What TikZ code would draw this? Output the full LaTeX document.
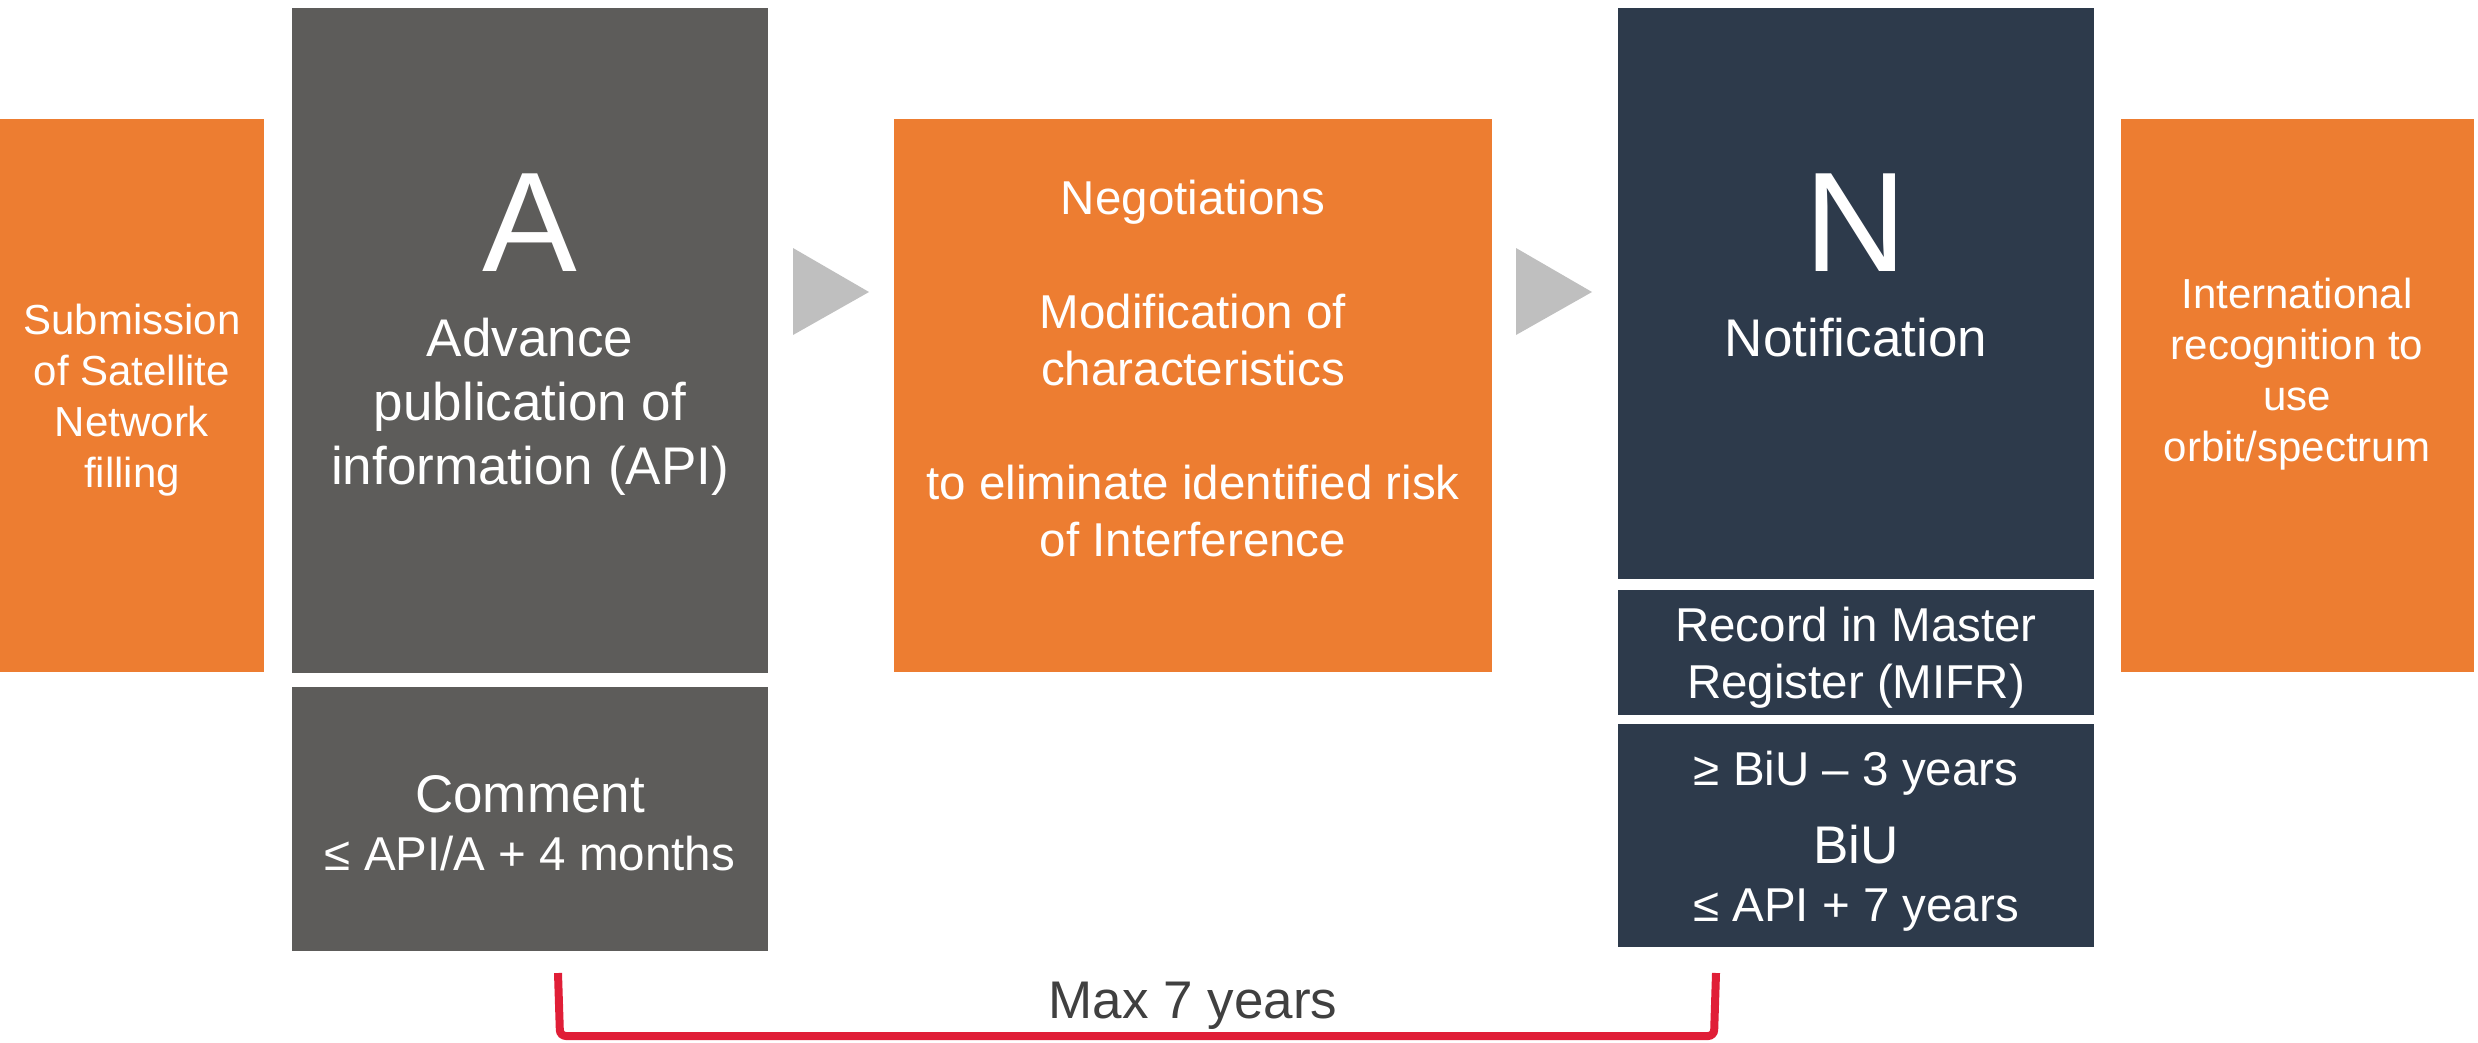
\documentclass[tikz,border=0pt]{standalone}
\usepackage{fontspec}
\setmainfont{Liberation Sans}
\definecolor{stepOrange}{HTML}{ED7D31}
\definecolor{stepGray}{HTML}{5D5C5A}
\definecolor{stepNavy}{HTML}{2D3A4B}
\definecolor{chevronGray}{HTML}{BFBFBF}
\definecolor{spanRed}{HTML}{E01E37}
\definecolor{spanText}{HTML}{404040}
\newcommand{\fsBig}{\fontsize{142}{150}\selectfont}
\newcommand{\fsHead}{\fontsize{53}{64}\selectfont}
\newcommand{\fsBody}{\fontsize{47.5}{57}\selectfont}
\newcommand{\fsSide}{\fontsize{42}{50.8}\selectfont}
\begin{document}
\begin{tikzpicture}[x=1pt,y=-1pt,
  panel/.style={rectangle, draw=none, inner sep=0pt, outer sep=0pt, anchor=north west},
  label/.style={text=white, align=center, anchor=base, inner sep=0pt},
  chevron/.style={fill=chevronGray},
  span/.style={draw=spanRed, line width=8pt, rounded corners=6pt, line cap=butt}]
\useasboundingbox (0,0) rectangle (2478,1042);

% filling submission (multi-line labels are placed by their last baseline)
\node[panel, fill=stepOrange, minimum width=264pt, minimum height=553pt] (submit) at (0,119) {};
\node[label, font=\fsSide] (submitText) at (132,487) {Submission\\of Satellite\\Network\\filling};

% advance publication
\node[panel, fill=stepGray, minimum width=476pt, minimum height=665pt] (api) at (292,8) {};
\node[label, font=\fsBig] (apiLetter) at (530,271) {A};
\node[label, font=\fsHead] (apiText) at (530,484) {Advance\\publication of\\information (API)};

\node[panel, fill=stepGray, minimum width=476pt, minimum height=264pt] (comment) at (292,687) {};
\node[label, font=\fsHead] (commentHead) at (530,812) {Comment};
\node[label, font=\fsBody] (commentTime) at (530,870) {≤ API/A + 4 months};

% chevrons between stages
\fill[chevron] (793,248) -- (869,292) -- (793,335) -- cycle;
\fill[chevron] (1516,248) -- (1592,292) -- (1516,335) -- cycle;

% negotiations
\node[panel, fill=stepOrange, minimum width=598pt, minimum height=553pt] (nego) at (894,119) {};
\node[label, font=\fsBody] (negoText) at (1193,556)
  {Negotiations\\[57pt]Modification of\\characteristics\\[57pt]to eliminate identified risk\\of Interference};

% notification
\node[panel, fill=stepNavy, minimum width=476pt, minimum height=571pt] (notif) at (1618,8) {};
\node[label, font=\fsBig] (notifLetter) at (1856,271) {N};
\node[label, font=\fsHead] (notifText) at (1856,356) {Notification};

\node[panel, fill=stepNavy, minimum width=476pt, minimum height=125pt] (record) at (1618,590) {};
\node[label, font=\fsBody] (recordText) at (1856,698) {Record in Master\\Register (MIFR)};

\node[panel, fill=stepNavy, minimum width=476pt, minimum height=223pt] (biu) at (1618,724) {};
\node[label, font=\fsBody] (biuMin) at (1856,785) {≥ BiU – 3 years};
\node[label, font=\fsHead] (biuHead) at (1856,863) {BiU};
\node[label, font=\fsBody] (biuMax) at (1856,921) {≤ API + 7 years};

% recognition
\node[panel, fill=stepOrange, minimum width=353pt, minimum height=553pt] (recog) at (2121,119) {};
\node[label, font=\fsSide] (recogText) at (2297,461) {International\\recognition to\\use\\orbit/spectrum};

% overall time span
\coordinate (spanL) at (558,973);
\coordinate (spanR) at (1716,973);
\draw[span] (spanL) -- (560,1036) -- (1714,1036) -- (spanR);
\node[anchor=base, inner sep=0pt, text=spanText, font=\fsHead] (spanText) at (1193,1018) {Max 7 years};
\end{tikzpicture}
\end{document}
